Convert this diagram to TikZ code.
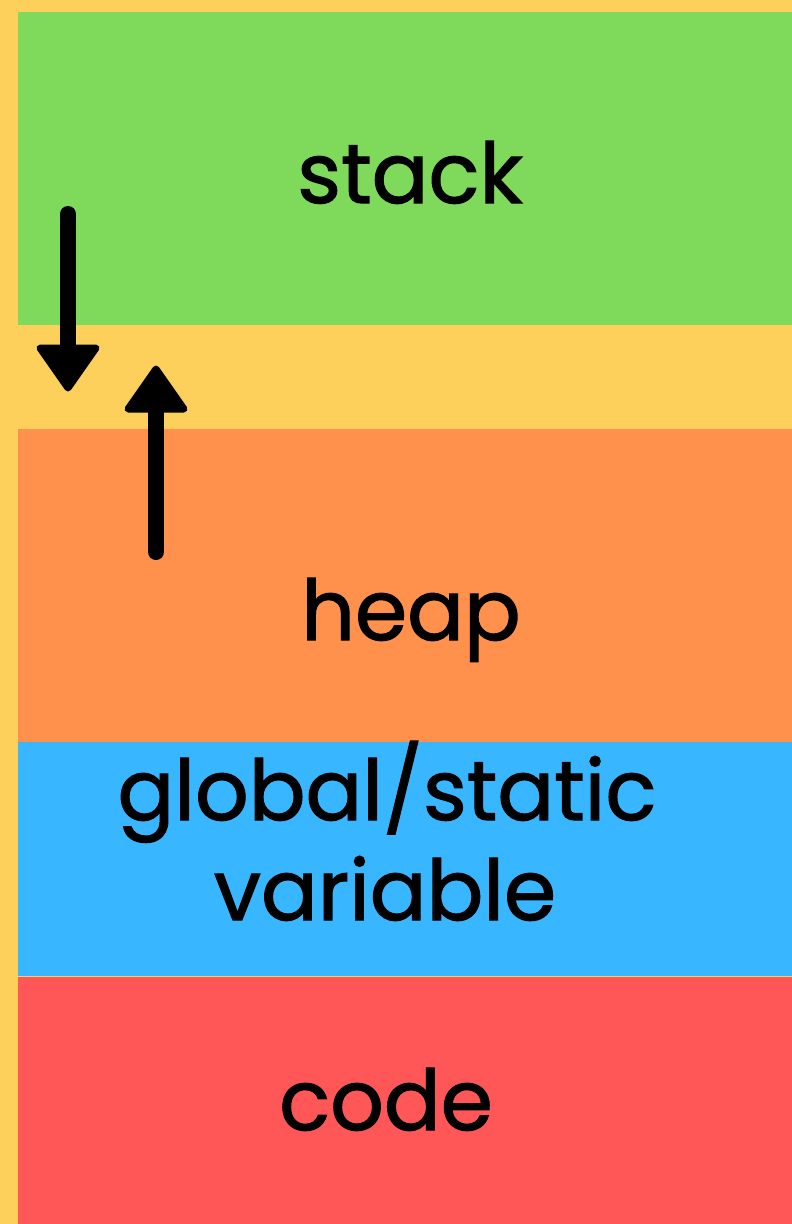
\documentclass[tikz,border=0pt]{standalone}
\usepackage{fontspec}
\newfontface\segfont{Poppins}[FakeBold=1.4]
\definecolor{bgyellow}{HTML}{FDCF5B}
\definecolor{stackgreen}{HTML}{7FDA5B}
\definecolor{heaporange}{HTML}{FF914D}
\definecolor{globalblue}{HTML}{38B6FF}
\definecolor{codered}{HTML}{FF5757}
\tikzset{
  seglabel/.style={anchor=base, inner sep=0pt, text=black, font=\segfont\fontsize{84}{100}\selectfont},
  shaft/.style={line width=16pt, line cap=round, black},
  headtri/.style={fill=black, draw=black, line width=7pt, line join=round},
}
\begin{document}
\begin{tikzpicture}[x=1pt,y=-1pt]
\useasboundingbox (0,0) rectangle (792,1224);
\fill[bgyellow] (0,0) rectangle (792,1224);
\fill[stackgreen] (18,12) rectangle (792,325);
\fill[heaporange] (18,429) rectangle (792,742);
\fill[globalblue] (18,742) rectangle (792,976);
\fill[codered] (18,977) rectangle (792,1224);

\node[seglabel] (stack) at (410,203) {stack};
\node[seglabel] (heap) at (411,640) {heap};
\node[seglabel] (global) at (387,820) {global/static};
\node[seglabel] (variable) at (385,920) {variable};
\node[seglabel] (code) at (386,1130) {code};

% down arrow
\coordinate (dstart) at (68,214);
\coordinate (dend) at (68,350);
\draw[shaft] (dstart) -- (dend);
\filldraw[headtri] (68,348) -- (96,348) -- (68,388) -- (40,348) -- cycle;

% up arrow
\coordinate (ustart) at (156,552);
\coordinate (uend) at (156,408);
\draw[shaft] (ustart) -- (uend);
\filldraw[headtri] (156,409) -- (184,409) -- (156,369) -- (128,409) -- cycle;
\end{tikzpicture}
\end{document}
